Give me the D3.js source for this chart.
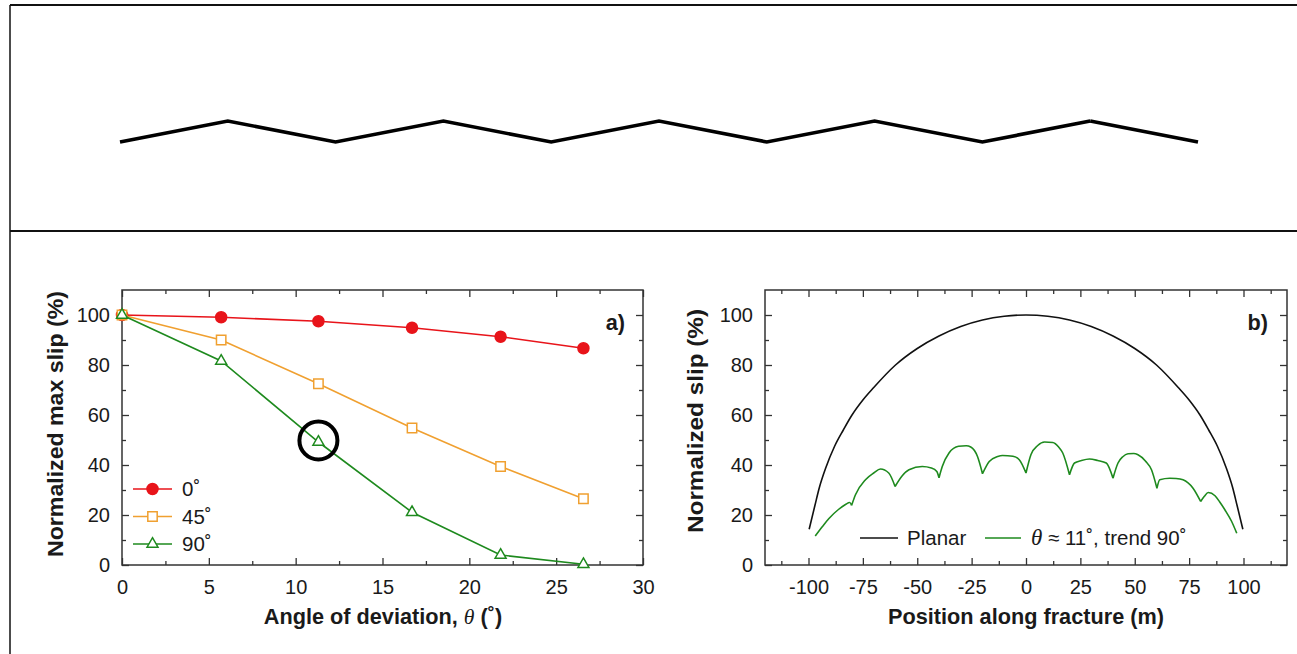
<!DOCTYPE html>
<html>
<head>
<meta charset="utf-8">
<script src="https://cdn.jsdelivr.net/npm/d3@7"></script>
<style>
  body { margin: 0; background: #fff; }
  svg { display: block; font-family: "Liberation Sans", Arial, Helvetica, sans-serif; }
  .axis path.domain { display: none; }
  .axis line { stroke: #333; stroke-width: 1.3; }
  .tick text { font-family: "Liberation Sans", Arial, Helvetica, sans-serif; font-size: 20px; fill: #1a1a1a; }
  .lbl { font-weight: bold; font-size: 21.7px; fill: #1a1a1a; }
  .leg { font-size: 20.5px; fill: #1a1a1a; }
</style>
</head>
<body>
<svg id="fig" width="1297" height="654"></svg>
<script>
// Fracture trace: 10 segments of 20 m, vertex offsets in m
const tracePos    = [-100, -80, -60, -40, -20, 0, 20, 40, 60, 80, 100];
const traceOffset = [0, 4, 0, 4, 0, 4, 0, 4, 0, 4, 0];

// Panel a: max slip vs angle of deviation, per trend
const angles  = [0, 5.71, 11.31, 16.70, 21.80, 26.57];
const slip0   = [100, 99.1, 97.5, 94.9, 91.3, 86.7];
const slip45  = [100, 90.0, 72.5, 54.8, 39.4, 26.5];
const slip90  = [100, 81.6, 49.2, 21.1, 4.0, 0.3];
const trendLabels = ["0˚", "45˚", "90˚"];

// Panel b: slip profiles along fracture
const planarPos  = [-99.7, -97, -95, -92, -88, -84, -80, -75, -70, -60, -50, -40, -30, -20, -10, 0,
                    10, 20, 30, 40, 50, 60, 70, 75, 80, 84, 88, 92, 95, 97, 99.7];
const planarSlip = [14.3, 24, 31, 39, 47.5, 54, 60, 66, 71, 80, 86.6, 91.6, 95.4, 98, 99.5, 100,
                    99.5, 98, 95.4, 91.6, 86.6, 80, 71, 66, 60, 54, 47.5, 39, 31, 24, 14.3];
// non-planar profile; slope breaks at the segment kinks
const kinkPos   = [-80.2, -60.2, -40, -20, 0, 20, 40, 60.2, 80.3];
const roughPos  = [-96.9, -93.5, -90.7, -86.1, -83, -81, -80.2,
                   -78.4, -73.8, -70, -66.9, -63.1, -60.2,
                   -56.9, -53.8, -47.7, -43.5, -41, -40,
                   -38.5, -35.4, -31, -27.5, -25.4, -22.3, -20,
                   -16.9, -13, -10.8, -6, -3.1, 0,
                   2.3, 5.4, 8.5, 12.3, 15, 16.9, 20,
                   22.3, 25.5, 29.2, 33, 36.9, 40,
                   42.3, 44.5, 46.9, 49.5, 51.5, 55, 57.7, 60.2,
                   61.5, 66.1, 69, 72.2, 76.8, 80.3,
                   82, 83.8, 86.9, 89, 91.5, 94.5, 96.9];
const roughSlip = [11.6, 15.5, 18.5, 22.3, 24.2, 25.0, 23.8,
                   28.1, 34.1, 36.8, 38.4, 36.8, 31.4,
                   35.7, 38.1, 39.4, 38.8, 37.4, 34.9,
                   39.4, 44.8, 47.5, 47.7, 47.2, 43.4, 36.5,
                   41.4, 43.4, 43.8, 43.5, 42.1, 36.8,
                   44.2, 47.8, 49.2, 49.0, 47.2, 44.8, 36.1,
                   40.8, 41.8, 42.4, 41.8, 40.8, 34.7,
                   40.8, 43.3, 44.5, 44.6, 44.1, 41.5, 38.1, 30.7,
                   34.1, 34.7, 34.6, 34.1, 30.7, 25.4,
                   27.5, 29.0, 27.7, 25.3, 22.0, 17.5, 12.7];

const svg = d3.select('#fig');

// Outer figure frame and panel separator
svg.append('line').attr('x1', 10).attr('x2', 1297).attr('y1', 5).attr('y2', 5).attr('stroke', '#111').attr('stroke-width', 2);
svg.append('line').attr('x1', 10).attr('x2', 10).attr('y1', 5).attr('y2', 654).attr('stroke', '#111').attr('stroke-width', 1.5);
svg.append('line').attr('x1', 10).attr('x2', 1297).attr('y1', 231).attr('y2', 231).attr('stroke', '#111').attr('stroke-width', 2);

// Top sketch of the zigzag fracture
const xT = d3.scaleLinear().domain([-100, 100]).range([120, 1198]);
const yT = d3.scaleLinear().domain([0, 4]).range([142, 121]);
const trace = tracePos.map((p, i) => [xT(p), yT(traceOffset[i])]);
svg.append('path')
  .attr('d', d3.line()(trace.slice(0, 10)))
  .attr('fill', 'none').attr('stroke', '#000').attr('stroke-width', 3.6).attr('stroke-linejoin', 'miter');
svg.append('path')
  .attr('d', d3.line()(trace.slice(9)))
  .attr('fill', 'none').attr('stroke', '#000').attr('stroke-width', 3.6);

const plainNum = d => String(d);

// Boxed axes with inward ticks on all four sides
function frame(x, y, majX, minX, majY, minY) {
  const [x0, x1] = x.range(), [y0, y1] = y.range();
  const g = svg.append('g');
  const add = (axis, tx, ty) => g.append('g').attr('class', 'axis').attr('transform', `translate(${tx},${ty})`).call(axis);
  add(d3.axisBottom(x).tickValues(majX).tickSize(-7).tickPadding(15).tickFormat(plainNum), 0, y0);
  add(d3.axisBottom(x).tickValues(minX).tickSize(-4).tickFormat(''), 0, y0);
  add(d3.axisTop(x).tickValues(majX).tickSize(-7).tickFormat(''), 0, y1);
  add(d3.axisTop(x).tickValues(minX).tickSize(-4).tickFormat(''), 0, y1);
  add(d3.axisLeft(y).tickValues(majY).tickSize(-7).tickPadding(12).tickFormat(plainNum), x0, 0);
  add(d3.axisLeft(y).tickValues(minY).tickSize(-4).tickFormat(''), x0, 0);
  add(d3.axisRight(y).tickValues(majY).tickSize(-7).tickFormat(''), x1, 0);
  add(d3.axisRight(y).tickValues(minY).tickSize(-4).tickFormat(''), x1, 0);
  g.append('rect').attr('x', x0).attr('y', y1).attr('width', x1 - x0).attr('height', y0 - y1)
    .attr('fill', 'none').attr('stroke', '#333').attr('stroke-width', 1.5);
  return g;
}

const slipTicks = [0, 20, 40, 60, 80, 100];
const slipMinor = [10, 30, 50, 70, 90];

// ---------- Panel a ----------
const xA = d3.scaleLinear().domain([0, 30]).range([122, 643]);
const yA = d3.scaleLinear().domain([0, 110]).range([565, 290]);
frame(xA, yA, [0, 5, 10, 15, 20, 25, 30], [2.5, 7.5, 12.5, 17.5, 22.5, 27.5], slipTicks, slipMinor);

const series = [
  {name: trendLabels[0], vals: slip0,  color: '#e8141a', sym: d3.symbolCircle,   size: 95, fill: true},
  {name: trendLabels[1], vals: slip45, color: '#f0a030', sym: d3.symbolSquare,   size: 88, fill: false},
  {name: trendLabels[2], vals: slip90, color: '#1e8a1e', sym: d3.symbolTriangle, size: 52, fill: false}
];
const lineA = d3.line().x((d, i) => xA(angles[i])).y(d => yA(d));

series.forEach(s => {
  svg.append('path').attr('d', lineA(s.vals)).attr('fill', 'none')
    .attr('stroke', s.color).attr('stroke-width', 1.6);
  svg.append('g').selectAll('path').data(s.vals).enter().append('path')
    .attr('transform', (d, i) => `translate(${xA(angles[i])},${yA(d)})`)
    .attr('d', d3.symbol(s.sym, s.size))
    .attr('fill', s.fill ? s.color : '#fff')
    .attr('stroke', s.color).attr('stroke-width', 1.5);
});

// highlighted point (theta ~ 11, trend 90)
svg.append('circle')
  .attr('cx', xA(angles[2])).attr('cy', yA(slip90[2]) - 1.5).attr('r', 19)
  .attr('fill', 'none').attr('stroke', '#000').attr('stroke-width', 4);

// legend a
const legA = svg.append('g');
series.forEach((s, i) => {
  const ly = 489 + i * 27.5;
  legA.append('line').attr('x1', 133).attr('x2', 172).attr('y1', ly).attr('y2', ly)
    .attr('stroke', s.color).attr('stroke-width', 1.6);
  legA.append('path').attr('transform', `translate(152.5,${ly})`)
    .attr('d', d3.symbol(s.sym, s.size))
    .attr('fill', s.fill ? s.color : '#fff').attr('stroke', s.color).attr('stroke-width', 1.5);
  legA.append('text').attr('class', 'leg').attr('x', 182).attr('y', ly).attr('dy', '0.36em').text(s.name);
});

svg.append('text').attr('class', 'lbl').attr('x', 625).attr('y', 330).attr('text-anchor', 'end').text('a)');
svg.append('text').attr('class', 'lbl').attr('transform', 'translate(63,424) rotate(-90)')
  .attr('text-anchor', 'middle').attr('textLength', 266).attr('lengthAdjust', 'spacingAndGlyphs')
  .text('Normalized max slip (%)');
const xLabA = svg.append('text').attr('class', 'lbl').attr('x', 383).attr('y', 624).attr('text-anchor', 'middle');
xLabA.append('tspan').text('Angle of deviation, ');
xLabA.append('tspan').attr('font-family', '"Liberation Serif", serif').attr('font-style', 'italic').attr('font-weight', 'normal').text('θ');
xLabA.append('tspan').text(' (˚)');

// ---------- Panel b ----------
const xB = d3.scaleLinear().domain([-120, 120]).range([765, 1287]);
const yB = d3.scaleLinear().domain([0, 110]).range([565, 290]);
frame(xB, yB, [-100, -75, -50, -25, 0, 25, 50, 75, 100],
  [-112.5, -87.5, -62.5, -37.5, -12.5, 12.5, 37.5, 62.5, 87.5, 112.5], slipTicks, slipMinor);

svg.append('path')
  .attr('d', d3.line().x((d, i) => xB(planarPos[i])).y(d => yB(d)).curve(d3.curveMonotoneX)(planarSlip))
  .attr('fill', 'none').attr('stroke', '#111').attr('stroke-width', 1.6);

// rough profile: smooth arcs between kinks, sharp at the kinks
const roughPts = roughPos.map((p, i) => [p, roughSlip[i]]);
const lobes = [];
let cur = [];
roughPts.forEach(pt => {
  cur.push(pt);
  if (kinkPos.includes(pt[0])) { lobes.push(cur); cur = [pt]; }
});
lobes.push(cur);
const lobeLine = d3.line().x(d => xB(d[0])).y(d => yB(d[1])).curve(d3.curveMonotoneX);
svg.append('path')
  .attr('d', lobes.map(l => lobeLine(l)).join(''))
  .attr('fill', 'none').attr('stroke', '#1e8a1e').attr('stroke-width', 1.6).attr('stroke-linejoin', 'round');

// legend b
const legB = svg.append('g');
legB.append('line').attr('x1', 860).attr('x2', 898).attr('y1', 538).attr('y2', 538).attr('stroke', '#111').attr('stroke-width', 1.6);
legB.append('text').attr('class', 'leg').attr('x', 907).attr('y', 538).attr('dy', '0.36em').text('Planar');
legB.append('line').attr('x1', 985).attr('x2', 1021).attr('y1', 538).attr('y2', 538).attr('stroke', '#1e8a1e').attr('stroke-width', 1.6);
const lt = legB.append('text').attr('class', 'leg').attr('x', 1031).attr('y', 538).attr('dy', '0.36em');
lt.append('tspan').attr('font-family', '"Liberation Serif", serif').attr('font-style', 'italic').attr('font-size', '23px').text('θ');
lt.append('tspan').text(' ≈ 11˚, trend 90˚');

svg.append('text').attr('class', 'lbl').attr('x', 1268).attr('y', 330).attr('text-anchor', 'end').text('b)');
svg.append('text').attr('class', 'lbl').attr('transform', 'translate(703,421) rotate(-90)')
  .attr('text-anchor', 'middle').attr('textLength', 224).attr('lengthAdjust', 'spacingAndGlyphs')
  .text('Normalized slip (%)');
svg.append('text').attr('class', 'lbl').attr('x', 1026).attr('y', 624).attr('text-anchor', 'middle')
  .text('Position along fracture (m)');
</script>
</body>
</html>
